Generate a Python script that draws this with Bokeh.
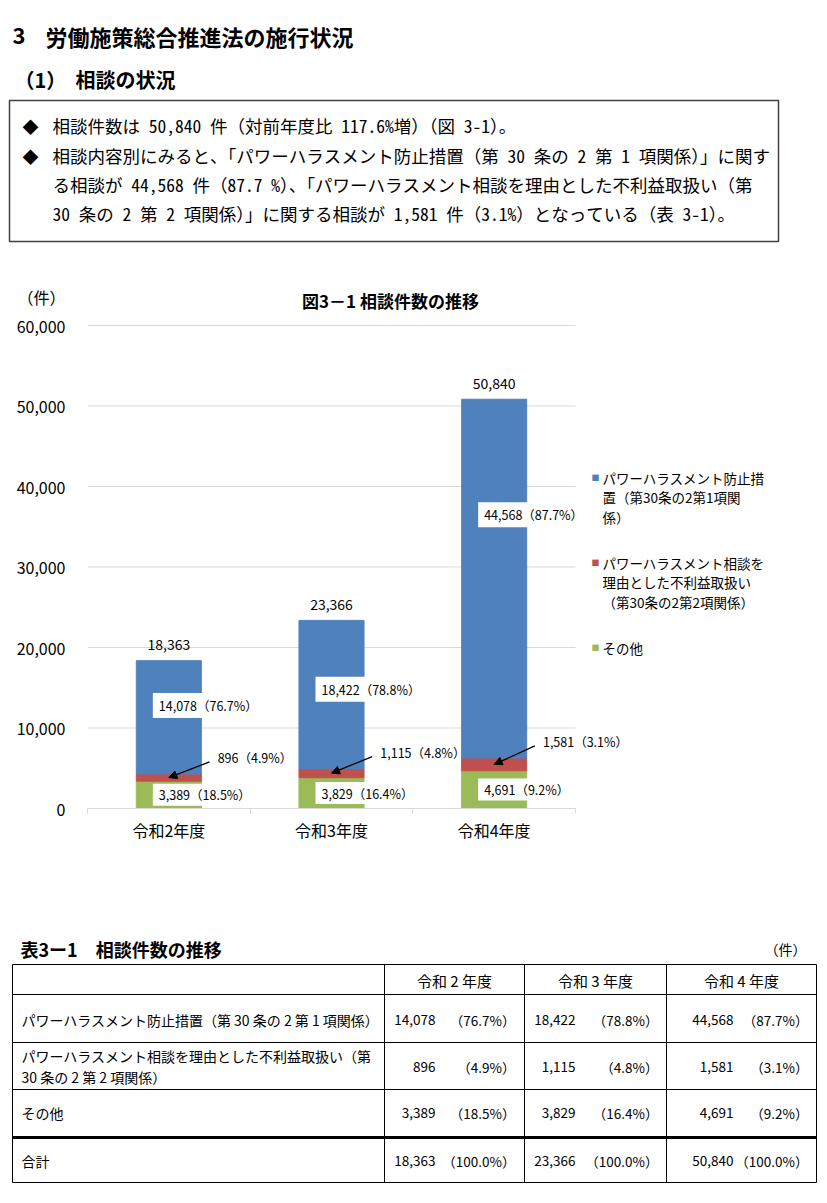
from bokeh.plotting import figure
from bokeh.models import (Range1d, LinearAxis, FixedTicker, NumeralTickFormatter,
                          ColumnDataSource, LabelSet, Label, Arrow, NormalHead)
from bokeh.core.properties import value
from bokeh.embed import file_html
from bokeh.resources import INLINE

FONT = "Noto Sans CJK JP"
MONO = "Noto Sans Mono CJK JP, Noto Sans CJK JP"
BLUE, RED, GREEN = "#4F81BD", "#C0504D", "#9BBB59"

# ---------------- data ----------------
categories = ["令和2年度", "令和3年度", "令和4年度"]
table_years = ["令和 2 年度", "令和 3 年度", "令和 4 年度"]
prevention = [14078, 18422, 44568]
disadvantage = [896, 1115, 1581]
other = [3389, 3829, 4691]
totals = [18363, 23366, 50840]
prevention_pct = ["76.7%", "78.8%", "87.7%"]
disadvantage_pct = ["4.9%", "4.8%", "3.1%"]
other_pct = ["18.5%", "16.4%", "9.2%"]
total_pct = ["100.0%", "100.0%", "100.0%"]
y_ticks = [0, 10000, 20000, 30000, 40000, 50000, 60000]
unit_label = "（件）"
legend_lines = [["パワーハラスメント防止措", "置（第30条の2第1項関", "係）"],
                ["パワーハラスメント相談を", "理由とした不利益取扱い", "（第30条の2第2項関係）"],
                ["その他"]]
table_row_labels = [["パワーハラスメント防止措置（第 30 条の 2 第 1 項関係）"],
                    ["パワーハラスメント相談を理由とした不利益取扱い（第", "30 条の 2 第 2 項関係）"],
                    ["その他"], ["合計"]]
# label anchors for the blue-segment value labels (data units)
prevention_label_y = [12800, 14800, 36500]

W = 827


def page_fig(top, bottom):
    p = figure(width=W, height=bottom - top, x_range=Range1d(0, W), y_range=Range1d(bottom, top),
               output_backend="svg", toolbar_location=None, x_axis_location=None,
               y_axis_location=None, min_border=0, outline_line_color=None)
    p.xgrid.visible = False
    p.ygrid.visible = False
    return p


def txt(p, x, y, s, size, align="left", bold=False, font=FONT, color="#000000"):
    p.text(x=[x], y=[y], text=[s], text_font=value(font), text_font_size=value(f"{size}px"),
           text_font_style="bold" if bold else "normal", text_align=align,
           text_baseline="middle", text_color=color)


# ---------------- header ----------------
h = page_fig(0, 260)
txt(h, 12, 35, "3", 22, bold=True)
txt(h, 45, 35, "労働施策総合推進法の施行状況", 22, bold=True)
txt(h, 14, 79, "（1）", 20, bold=True)
txt(h, 75, 79, "相談の状況", 20, bold=True)
h.quad(left=[9], right=[778], top=[100], bottom=[241], fill_color=None,
       line_color="#404040", line_width=1.5)
body = [
    (125, True, "相談件数は 50,840 件（対前年度比 117.6%増）（図 3-1）。"),
    (155, True, "相談内容別にみると、「パワーハラスメント防止措置（第 30 条の 2 第 1 項関係）」に関す"),
    (184, False, "る相談が 44,568 件（87.7 %）、「パワーハラスメント相談を理由とした不利益取扱い（第"),
    (213, False, "30 条の 2 第 2 項関係）」に関する相談が 1,581 件（3.1%）となっている（表 3-1）。"),
]
for yy, bullet, s in body:
    if bullet:
        txt(h, 22, yy, "◆", 16)
    txt(h, 52, yy, s, 17.5, font=MONO)

# ---------------- chart ----------------
n = len(categories)
xc = list(range(n))
TOP, BOTTOM = 260, 930                     # page rows occupied by the chart figure
FRAME_L, CAT_R, ZERO_Y, TOP_Y = 87, 575, 808, 325   # page pixels: category span and 0/60000 levels
x_per_px = n / (CAT_R - FRAME_L)
y_per_px = y_ticks[-1] / (ZERO_Y - TOP_Y)


def dx(px):
    return (px - FRAME_L) * x_per_px - 0.5


def dy(py):
    return (ZERO_Y - py) * y_per_px


c = figure(width=W, height=BOTTOM - TOP, x_range=Range1d(-0.5, dx(W)), y_range=Range1d(0, dy(TOP)),
           output_backend="svg", toolbar_location=None, x_axis_location=None, y_axis_location=None,
           min_border_left=FRAME_L, min_border_right=0, min_border_top=0,
           min_border_bottom=BOTTOM - ZERO_Y, outline_line_color=None)
c.xgrid.visible = False
c.ygrid.visible = False

unit_tick = 63500
yaxis = LinearAxis(ticker=FixedTicker(ticks=y_ticks + [unit_tick]),
                   formatter=NumeralTickFormatter(format="0,0"),
                   major_label_overrides={unit_tick: unit_label},
                   axis_line_color=None, major_tick_line_color=None, minor_tick_line_color=None,
                   major_tick_out=0, major_tick_in=0, major_label_standoff=22,
                   major_label_text_font=FONT, major_label_text_font_size="16px",
                   major_label_text_color="#000000")
c.add_layout(yaxis, "left")

# horizontal gridlines over the category span
c.segment(x0=[-0.5] * len(y_ticks), x1=[n - 0.5] * len(y_ticks), y0=y_ticks, y1=y_ticks,
          line_color="#D9D9D9", line_width=1)

xaxis = LinearAxis(ticker=FixedTicker(ticks=xc, minor_ticks=[i - 0.5 for i in range(n + 1)]),
                   major_label_overrides={i: categories[i] for i in range(n)},
                   bounds=(-0.5, n - 0.5),
                   axis_line_color="#D9D9D9", major_tick_line_color=None, major_tick_out=0,
                   major_tick_in=0, minor_tick_line_color="#D9D9D9", minor_tick_out=5,
                   minor_tick_in=0, major_label_standoff=4, major_label_text_font=FONT,
                   major_label_text_font_size="16px", major_label_text_color="#000000")
c.add_layout(xaxis, "below")

src = ColumnDataSource(dict(x=xc, other=other, disadvantage=disadvantage, prevention=prevention))
c.vbar_stack(["other", "disadvantage", "prevention"], x="x", width=0.4,
             color=[GREEN, RED, BLUE], source=src)

# totals above bars
tot_src = ColumnDataSource(dict(x=xc, y=totals, t=[f"{v:,}" for v in totals]))
c.add_layout(LabelSet(x="x", y="y", text="t", source=tot_src, y_offset=16,
                      text_font=value(FONT), text_font_size="14px", text_align="center",
                      text_baseline="middle", text_color="#000000"))

# white boxed labels for blue and green segments
BOX_DX = 36 * x_per_px
other_mid = [o / 2 for o in other]
c.rect(x=[x + BOX_DX for x in xc], y=prevention_label_y, width=104, height=25,
       width_units="screen", height_units="screen", fill_color="white", line_color=None)
c.rect(x=[x + BOX_DX for x in xc], y=other_mid, width=104, height=22,
       width_units="screen", height_units="screen", fill_color="white", line_color=None)
prev_src = ColumnDataSource(dict(x=xc, y=prevention_label_y,
                                 t=[f"{v:,}（{p}）" for v, p in zip(prevention, prevention_pct)]))
oth_src = ColumnDataSource(dict(x=xc, y=other_mid,
                                t=[f"{v:,}（{p}）" for v, p in zip(other, other_pct)]))
for s in (prev_src, oth_src):
    c.add_layout(LabelSet(x="x", y="y", text="t", source=s, x_offset=-10,
                          text_font=value(FONT), text_font_size="12.5px", text_align="left",
                          text_baseline="middle", text_color="#000000"))

# red segment labels with arrows
red_top = [o + d for o, d in zip(other, disadvantage)]
red_mid = [o + d / 2 for o, d in zip(other, disadvantage)]
dis_src = ColumnDataSource(dict(x=[x + 0.3 for x in xc], y=[t + 2000 for t in red_top],
                                t=[f"{v:,}（{p}）" for v, p in zip(disadvantage, disadvantage_pct)]))
c.add_layout(LabelSet(x="x", y="y", text="t", source=dis_src,
                      text_font=value(FONT), text_font_size="12.5px", text_align="left",
                      text_baseline="middle", text_color="#000000"))
arr_src = ColumnDataSource(dict(xs=[x + 0.25 for x in xc], ys=[t + 1500 for t in red_top],
                                xe=xc, ye=red_mid))
c.add_layout(Arrow(source=arr_src, x_start="xs", y_start="ys", x_end="xe", y_end="ye",
                   line_color="black", line_width=1.3,
                   end=NormalHead(size=8, fill_color="black", line_color="black")))

# chart title
c.add_layout(Label(x=dx(390), y=dy(300), text="図3－1 相談件数の推移", text_font=FONT,
                   text_font_size="17px", text_font_style="bold", text_align="center",
                   text_baseline="middle", text_color="#000000"))

# legend (manual, multi-line entries)
leg_first_y = [477, 562, 647]
for lines, color, y0 in zip(legend_lines, [BLUE, RED, GREEN], leg_first_y):
    c.add_layout(Label(x=dx(595), y=dy(y0), text="■", text_font=FONT, text_font_size="8px",
                       text_align="center", text_baseline="middle", text_color=color))
    for k, line in enumerate(lines):
        c.add_layout(Label(x=dx(602), y=dy(y0 + 19.5 * k), text=line, text_font=FONT,
                           text_font_size="13.5px", text_align="left", text_baseline="middle",
                           text_color="#000000"))

# ---------------- table ----------------
t = page_fig(930, 1200)
txt(t, 20, 948, "表3ー1　相談件数の推移", 18, bold=True)
txt(t, 806, 948, "（件）", 14, align="right")
h_lines = [964, 994, 1042, 1089, 1182]
v_lines = [12, 384, 524, 666, 816]
t.segment(x0=[v_lines[0]] * len(h_lines), x1=[v_lines[-1]] * len(h_lines), y0=h_lines, y1=h_lines,
          line_color="#000000", line_width=1)
t.segment(x0=v_lines, x1=v_lines, y0=[h_lines[0]] * len(v_lines), y1=[h_lines[-1]] * len(v_lines),
          line_color="#000000", line_width=1)
t.segment(x0=[v_lines[0]], x1=[v_lines[-1]], y0=[1137], y1=[1137], line_color="#000000", line_width=3)

col_center = [454, 595, 741]
num_right = [435, 575, 733]
pct_right = [515, 658, 808]
row_y = [1019, 1066, 1112, 1160]
for j, yr in enumerate(table_years):
    txt(t, col_center[j], 980, yr, 15, align="center")
rows = [(prevention, prevention_pct), (disadvantage, disadvantage_pct), (other, other_pct),
        (totals, total_pct)]
for i, ((vals, pcts), labels) in enumerate(zip(rows, table_row_labels)):
    for k, lab in enumerate(labels):
        yy = row_y[i] + (k - (len(labels) - 1) / 2) * 21
        txt(t, 21, yy, lab, 14)
    for j in range(n):
        txt(t, num_right[j], row_y[i], f"{vals[j]:,}", 13.5, align="right")
        txt(t, pct_right[j], row_y[i], f"（{pcts[j]}）", 13.5, align="right")

open("out.html", "w").write(file_html([h, c, t], INLINE))
